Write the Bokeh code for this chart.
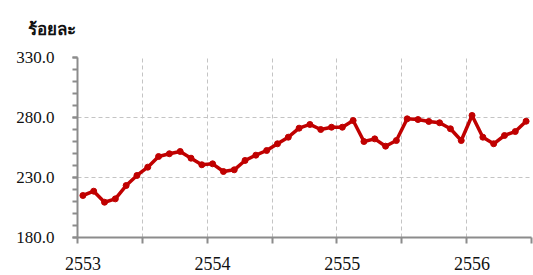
from bokeh.plotting import figure
from bokeh.models import (FixedTicker, LinearAxis, Range1d, Title, ColumnDataSource, Grid)
from bokeh.embed import file_html
from bokeh.resources import INLINE

# ---- data (monthly index, 2553 .. 2556) ----
values = [215.0, 218.6, 209.4, 212.2, 223.3, 231.7, 238.6, 247.5, 249.8, 251.7,
          246.1, 240.6, 241.4, 235.0, 236.4, 244.2, 248.6, 252.5, 258.1, 263.6,
          271.1, 274.2, 270.0, 271.9, 271.9, 277.5, 260.0, 262.2, 256.1, 260.8,
          278.9, 278.3, 276.7, 275.6, 270.6, 260.8, 281.7, 263.6, 258.1, 265.0,
          268.3, 276.9]
months = list(range(len(values)))
year_labels = ["2553", "2554", "2555", "2556"]
year_positions = [0, 12, 24, 36]
y_ticks = [180, 230, 280, 330]
title_text = "ร้อยละ"

SERIF = "Liberation Serif"

src = ColumnDataSource(dict(x=months, y=values))

p = figure(output_backend="svg", toolbar_location=None,
           x_range=Range1d(-0.5, len(values) - 0.5), y_range=Range1d(180, 330),
           x_axis_type=None, y_axis_type=None,
           frame_width=454, frame_height=180,
           min_border_left=77, min_border_right=2, min_border_top=57, min_border_bottom=0)
p.outline_line_color = None
p.background_fill_color = "white"

# title
t = Title(text=title_text, align="left", offset=-50, text_font="Noto Sans",
          text_font_size="17px", text_font_style="bold", text_color="#111111",
          standoff=32, vertical_align="top")
p.add_layout(t, "above")

# y axis
yax = LinearAxis(ticker=FixedTicker(ticks=y_ticks,
                                    minor_ticks=[v for v in range(180, 331, 10)]),
                 major_label_overrides={v: f"{v:.1f}" for v in y_ticks})
yax.axis_line_color = "#8c8c8c"
yax.axis_line_width = 2
yax.major_tick_line_color = "#8c8c8c"
yax.minor_tick_line_color = "#8c8c8c"
yax.major_tick_line_width = 2
yax.minor_tick_line_width = 2
yax.major_tick_out = 5
yax.major_tick_in = 0
yax.minor_tick_out = 5
yax.minor_tick_in = 0
yax.major_label_standoff = 18
yax.major_label_text_font = SERIF
yax.major_label_text_font_size = "17px"
yax.major_label_text_color = "#111111"
p.add_layout(yax, "left")

# x axis: tick marks every 6 months
half_year_ticks = [i - 0.5 for i in range(0, len(values) + 1, 6)]
xax = LinearAxis(ticker=FixedTicker(ticks=half_year_ticks, minor_ticks=[]),
                 major_label_overrides={v: "" for v in half_year_ticks})
xax.axis_line_color = "#8c8c8c"
xax.axis_line_width = 2
xax.major_tick_line_color = "#8c8c8c"
xax.major_tick_line_width = 2
xax.major_tick_out = 6
xax.major_tick_in = 0
xax.major_label_text_font_size = "1px"
xax.major_label_standoff = 0
p.add_layout(xax, "below")

# x axis: year labels
xlab = LinearAxis(ticker=FixedTicker(ticks=year_positions, minor_ticks=[]),
                  major_label_overrides={pos: lab for pos, lab in zip(year_positions, year_labels)})
xlab.axis_line_color = None
xlab.major_tick_line_color = None
xlab.major_tick_out = 0
xlab.major_tick_in = 0
xlab.major_label_standoff = 13
xlab.major_label_text_font = SERIF
xlab.major_label_text_font_size = "18px"
xlab.major_label_text_color = "#111111"
p.add_layout(xlab, "below")

# grids
gx = Grid(dimension=0, ticker=FixedTicker(ticks=half_year_ticks[1:]),
          grid_line_color="#c4c4c4", grid_line_dash="4 3", grid_line_width=1)
gy = Grid(dimension=1, ticker=FixedTicker(ticks=y_ticks[1:]),
          grid_line_color="#c4c4c4", grid_line_dash="4 3", grid_line_width=1)
p.add_layout(gx)
p.add_layout(gy)

p.line("x", "y", source=src, line_color="#C00000", line_width=3.5, line_join="round")
p.scatter("x", "y", source=src, size=6, color="#C00000")

open("out.html", "w").write(file_html(p, INLINE))
